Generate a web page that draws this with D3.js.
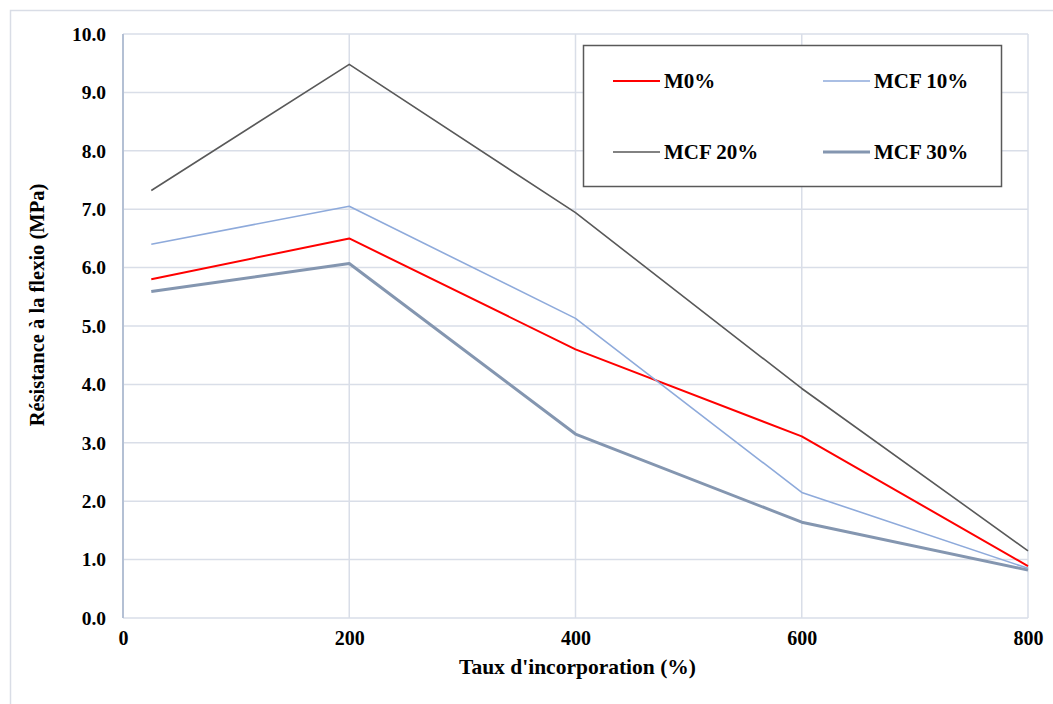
<!DOCTYPE html>
<html lang="fr">
<head>
    <meta charset="UTF-8">
    <script src="https://d3js.org/d3.v7.min.js"></script>
    <style>
        body { margin: 0; background: #fff; }
        svg text { font-family: "Liberation Serif", "Times New Roman", "DejaVu Serif", serif; font-weight: bold; fill: #000; }
    </style>
</head>
<body>
<div id="chart"></div>
<script>
    // Données
    const taux = [25, 200, 400, 600, 800];
    const seriesNames = ["M0%", "MCF 10%", "MCF 20%", "MCF 30%"];
    const m0 = [5.8, 6.5, 4.6, 3.11, 0.89];
    const mcf10 = [6.4, 7.05, 5.13, 2.15, 0.85];
    const mcf20 = [7.32, 9.48, 6.94, 3.93, 1.15];
    const mcf30 = [5.59, 6.07, 3.15, 1.64, 0.82];
    const xTicks = [0, 200, 400, 600, 800];
    const yTicks = [0, 1, 2, 3, 4, 5, 6, 7, 8, 9, 10];

    const styles = [
        {color: "#ff0000", w: 2},
        {color: "#8eaadb", w: 1.6},
        {color: "#595959", w: 1.6},
        {color: "#8496b0", w: 3}
    ];
    const allSeries = [m0, mcf10, mcf20, mcf30];

    const W = 1053, H = 704;
    const margin = {top: 34, left: 123, right: 1053 - 1028, bottom: 704 - 618};
    const width = W - margin.left - margin.right,
          height = H - margin.top - margin.bottom;

    const svg = d3.select("#chart").append("svg")
        .attr("width", W).attr("height", H);

    // cadre extérieur
    svg.append("rect")
        .attr("x", 10.5).attr("y", 10.5)
        .attr("width", 1060).attr("height", 720)
        .attr("fill", "none").attr("stroke", "#d9dde6").attr("stroke-width", 1.5);

    const g = svg.append("g").attr("transform", `translate(${margin.left},${margin.top})`);

    const x = d3.scaleLinear().domain([0, 800]).range([0, width]);
    const y = d3.scaleLinear().domain([0, 10]).range([height, 0]);

    // grille horizontale
    g.append("g")
        .selectAll("line").data(yTicks.filter(d => d > 0)).join("line")
        .attr("x1", 0).attr("x2", width)
        .attr("y1", d => y(d)).attr("y2", d => y(d))
        .attr("stroke", "#d9dee8").attr("stroke-width", 1.5);

    // grille verticale
    g.append("g")
        .selectAll("line").data(xTicks.filter(d => d > 0)).join("line")
        .attr("x1", d => x(d)).attr("x2", d => x(d))
        .attr("y1", 0).attr("y2", height)
        .attr("stroke", "#d9dee8").attr("stroke-width", 1.5);

    // axe du bas
    g.append("line")
        .attr("x1", 0).attr("x2", width).attr("y1", height).attr("y2", height)
        .attr("stroke", "#d9dee8").attr("stroke-width", 1.5);

    // axe gauche
    g.append("line")
        .attr("x1", 0).attr("x2", 0).attr("y1", 0).attr("y2", height)
        .attr("stroke", "#b4c0d4").attr("stroke-width", 2);

    // Etiquettes Y
    const yAxis = g.append("g")
        .call(d3.axisLeft(y).tickValues(yTicks).tickFormat(d3.format(".1f")).tickSize(0).tickPadding(17))
        .attr("font-family", null).attr("font-size", null);
    yAxis.select(".domain").remove();
    yAxis.selectAll("text").style("font-size", "19.5px");

    // Etiquettes X
    const xAxis = g.append("g")
        .attr("transform", `translate(0,${height})`)
        .call(d3.axisBottom(x).tickValues(xTicks).tickFormat(d3.format("d")).tickSize(0).tickPadding(13))
        .attr("font-family", null).attr("font-size", null);
    xAxis.select(".domain").remove();
    xAxis.selectAll(".tick text").style("font-size", "20px");

    // courbes
    const line = d3.line().x((d, i) => x(taux[i])).y(d => y(d));
    allSeries.forEach((s, k) => {
        g.append("path")
            .datum(s)
            .attr("fill", "none")
            .attr("stroke", styles[k].color)
            .attr("stroke-width", styles[k].w)
            .attr("stroke-linejoin", "round")
            .attr("d", line);
    });

    // titres des axes
    const cx = (margin.left + W - margin.right) / 2;
    svg.append("text")
        .attr("x", cx + 2).attr("y", 674)
        .attr("text-anchor", "middle")
        .attr("font-size", "21.5px")
        .text("Taux d'incorporation (%)");

    svg.append("text")
        .attr("transform", `translate(44,305) rotate(-90)`)
        .attr("text-anchor", "middle")
        .attr("font-size", "20.5px")
        .text("Résistance à la flexio (MPa)");

    // légende
    const leg = svg.append("g");
    leg.append("rect")
        .attr("x", 583.5).attr("y", 45.5).attr("width", 418).attr("height", 141)
        .attr("fill", "#fff").attr("stroke", "#595959").attr("stroke-width", 1.5);
    const legPos = [[623, 81], [833, 81], [623, 152], [833, 152]];
    seriesNames.forEach((name, k) => {
        const [lx, ly] = legPos[k];
        leg.append("line")
            .attr("x1", lx - 10).attr("x2", lx + 37).attr("y1", ly).attr("y2", ly)
            .attr("stroke", styles[k].color).attr("stroke-width", styles[k].w);
        leg.append("text")
            .attr("x", lx + 41).attr("y", ly + 7)
            .attr("font-size", "21px")
            .text(name);
    });
</script>
</body>
</html>
